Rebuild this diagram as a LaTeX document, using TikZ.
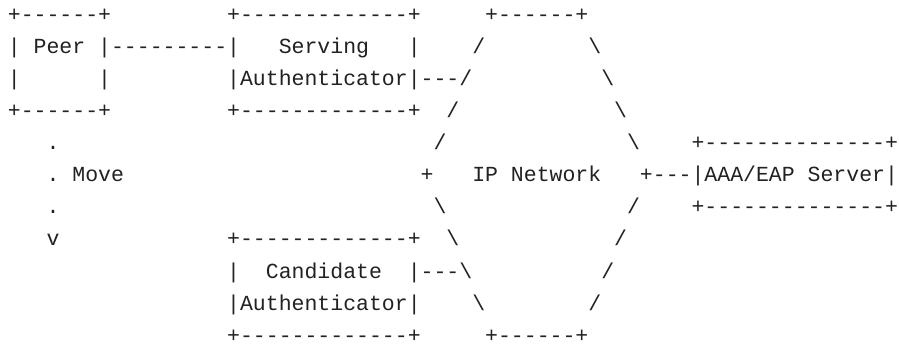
\documentclass[tikz,border=0pt]{standalone}
\usepackage{fontspec}
\setmonofont{Liberation Mono}
\definecolor{ink}{RGB}{34,34,34}
\tikzset{
  asc/.style={anchor=base west, inner sep=0pt, outer sep=0pt, text=ink,
    font=\ttfamily\fontsize{21.5pt}{32pt}\selectfont}
}
\newcommand{\bs}{\textbackslash}
\begin{document}
\begin{tikzpicture}[x=12.9pt,y=-32.1pt]
\useasboundingbox[fill=white] (-7.85pt,21.2pt) rectangle (891.15pt,-323.8pt);
% row 0
\node[asc] (a0) at (0,0) {+------+};
\node[asc] (b0) at (17,0) {+-------------+};
\node[asc] (c0) at (37,0) {+------+};
% row 1
\node[asc] (a1) at (0,1) {|};
\node[asc] (peer) at (2,1) {Peer};
\node[asc] (b1) at (7,1) {|---------|};
\node[asc] (serving) at (21,1) {Serving};
\node[asc] (c1) at (31,1) {|};
\node[asc] (d1) at (36,1) {/};
\node[asc] (e1) at (45,1) {\bs};
% row 2
\node[asc] (a2) at (0,2) {|};
\node[asc] (b2) at (7,2) {|};
\node[asc] (sauth) at (17,2) {|Authenticator|---/};
\node[asc] (e2) at (46,2) {\bs};
% row 3
\node[asc] (a3) at (0,3) {+------+};
\node[asc] (b3) at (17,3) {+-------------+};
\node[asc] (d3) at (34,3) {/};
\node[asc] (e3) at (47,3) {\bs};
% row 4
\node[asc] (a4) at (3,4) {.};
\node[asc] (d4) at (33,4) {/};
\node[asc] (e4) at (48,4) {\bs};
\node[asc] (f4) at (53,4) {+--------------+};
% row 5
\node[asc] (a5) at (3,5) {.};
\node[asc] (move) at (5,5) {Move};
\node[asc] (d5) at (32,5) {+};
\node[asc] (ipnet) at (36,5) {IP~Network};
\node[asc] (aaa) at (49,5) {+---|AAA/EAP~Server|};
% row 6
\node[asc] (a6) at (3,6) {.};
\node[asc] (d6) at (33,6) {\bs};
\node[asc] (e6) at (48,6) {/};
\node[asc] (f6) at (53,6) {+--------------+};
% row 7
\node[asc] (a7) at (3,7) {v};
\node[asc] (b7) at (17,7) {+-------------+};
\node[asc] (d7) at (34,7) {\bs};
\node[asc] (e7) at (47,7) {/};
% row 8
\node[asc] (b8) at (17,8) {|};
\node[asc] (cand) at (20,8) {Candidate};
\node[asc] (c8) at (31,8) {|---\bs};
\node[asc] (e8) at (46,8) {/};
% row 9
\node[asc] (cauth) at (17,9) {|Authenticator|};
\node[asc] (d9) at (36,9) {\bs};
\node[asc] (e9) at (45,9) {/};
% row 10
\node[asc] (b10) at (17,10) {+-------------+};
\node[asc] (c10) at (37,10) {+------+};
\end{tikzpicture}
\end{document}
